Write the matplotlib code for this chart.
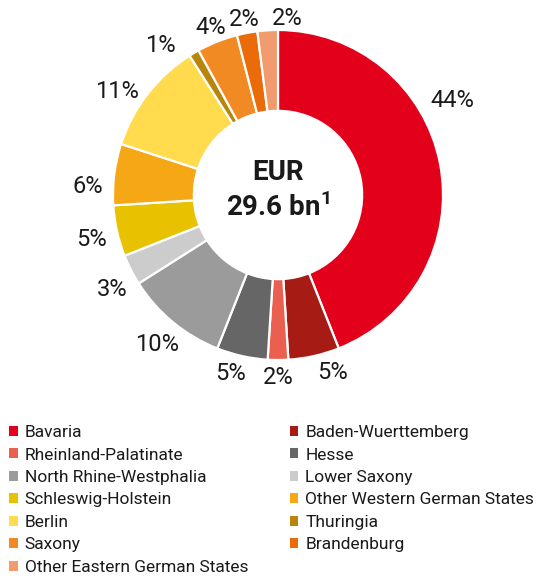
import matplotlib
matplotlib.use("Agg")
import matplotlib.pyplot as plt
from matplotlib.patches import Patch
import numpy as np

plt.rcParams['font.family'] = ['Roboto', 'DejaVu Sans']
plt.rcParams['mathtext.fontset'] = 'custom'
plt.rcParams['mathtext.rm'] = 'Roboto'
plt.rcParams['mathtext.bf'] = 'Roboto:bold'

# Datos del gráfico
estados = ["Bavaria", "Baden-Wuerttemberg", "Rheinland-Palatinate", "Hesse",
           "North Rhine-Westphalia", "Lower Saxony", "Schleswig-Holstein",
           "Other Western German States", "Berlin", "Thuringia", "Saxony",
           "Brandenburg", "Other Eastern German States"]
porcentajes = [44, 5, 2, 5, 10, 3, 5, 6, 11, 1, 4, 2, 2]
colores = ["#E2001A", "#A61C14", "#EB5F50", "#666666", "#9B9B9B", "#CCCCCC",
           "#E8C100", "#F5A716", "#FFDB4D", "#B8860B", "#F28A24", "#EB6A0A",
           "#F29B6E"]
etiquetas = [f"{p}%" for p in porcentajes]
# ajustes de ángulo (grados) y distancia para que las etiquetas no choquen
ajuste_angulo = {0: 18.5, 1: 4.7, 3: -2.5, 5: 1.7, 7: 3.6, 8: 4.5, 9: 7, 12: -6.5}
ajuste_radio = {0: 6, 9: 6}

fig = plt.figure(figsize=(5.55, 5.76), dpi=100)
ax = fig.add_axes([0, 0, 1, 1])

centro = (278, 576 - 195)
radio = 165
wedges, _ = ax.pie(porcentajes, colors=colores, startangle=90, counterclock=False,
                   center=centro, radius=radio,
                   wedgeprops=dict(width=radio * 0.49, edgecolor="white", linewidth=1.6))

# etiquetas de porcentaje
for i, w in enumerate(wedges):
    ang = (w.theta1 + w.theta2) / 2 + ajuste_angulo.get(i, 0)
    rad = np.deg2rad(ang)
    extra = 17 if len(etiquetas[i]) > 2 else 12
    r = radio + 14 + extra * abs(np.cos(rad)) + ajuste_radio.get(i, 0)
    x = centro[0] + r * np.cos(rad)
    y = centro[1] + r * np.sin(rad) - 3
    ax.text(x, y, etiquetas[i], ha="center", va="center", fontsize=17, color="#1a1a1a")

ax.text(centro[0], centro[1] + 23, "EUR", ha="center", va="center",
        fontsize=20, fontweight="bold", color="#1a1a1a")
ax.text(centro[0], centro[1] - 12, r"29.6 bn$^{\mathbf{1}}$", ha="center", va="center",
        fontsize=20, fontweight="bold", color="#1a1a1a")

ax.set_xlim(0, 555)
ax.set_ylim(0, 576)
ax.set_aspect("equal")
ax.axis("off")

# leyenda en filas (orden por fila)
orden = list(range(0, 13, 2)) + list(range(1, 13, 2))
handles = [Patch(facecolor=colores[i], edgecolor="none") for i in orden]
labels = [estados[i] for i in orden]
fig.legend(handles, labels, ncol=2, loc="upper left", bbox_to_anchor=(0.016, 0.262),
           frameon=False, fontsize=12.5, handlelength=0.5, handleheight=0.5,
           handletextpad=0.4, labelspacing=0.43, columnspacing=2.4,
           borderaxespad=0, borderpad=0, labelcolor="#1a1a1a")

fig.savefig("out.png", dpi=100)
